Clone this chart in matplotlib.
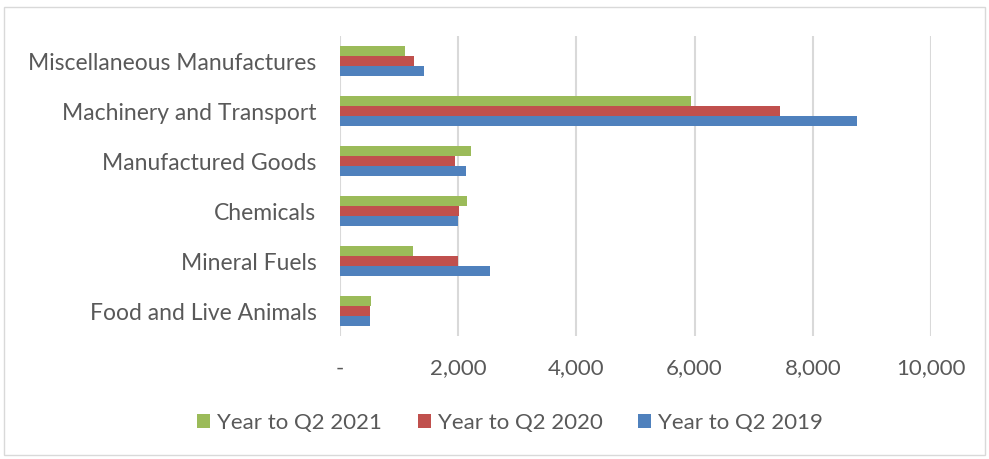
import numpy as np
import matplotlib.pyplot as plt
from matplotlib.patches import Rectangle

categories = ['Miscellaneous Manufactures', 'Machinery and Transport', 'Manufactured Goods',
              'Chemicals', 'Mineral Fuels', 'Food and Live Animals']
y2021 = [1105, 5945, 2222, 2143, 1230, 524]
y2020 = [1252, 7450, 1951, 2008, 1997, 513]
y2019 = [1416, 8753, 2137, 2002, 2538, 502]
series_names = ['Year to Q2 2021', 'Year to Q2 2020', 'Year to Q2 2019']
colors = ['#9BBB59', '#C0504D', '#4F81BD']
xticks = [0, 2000, 4000, 6000, 8000, 10000]
xticklabels = ['-', '2,000', '4,000', '6,000', '8,000', '10,000']

plt.rcParams['font.family'] = ['Lato', 'DejaVu Sans']
text_color = '#595959'
fs = 16

fig = plt.figure(figsize=(9.89, 4.59), dpi=100)
ax = fig.add_axes([340/989, 1-336/459, 591/989, 300/459])

pos = np.arange(len(categories))
h = 0.2
for i, (vals, name, c) in enumerate(zip([y2021, y2020, y2019], series_names, colors)):
    ax.barh(pos + (i - 1) * h, vals, height=h, color=c, label=name, zorder=3)

ax.set_ylim(len(categories) - 0.5, -0.5)
ax.set_yticks(pos)
ax.set_yticklabels(categories, fontsize=16.5, color=text_color)
ax.set_xlim(0, 10000)
ax.set_xticks(xticks)
ax.set_xticklabels(xticklabels, fontsize=fs, color=text_color)
ax.tick_params(length=0)
ax.tick_params(axis='y', pad=17)
ax.tick_params(axis='x', pad=16)
for s in ax.spines.values():
    s.set_visible(False)
ax.grid(axis='x', color='#D9D9D9', linewidth=1.5, zorder=0)

ax.legend(loc='center', bbox_to_anchor=(510/989, 1-423/459), bbox_transform=fig.transFigure,
          ncol=3, frameon=False, fontsize=fs, labelcolor=text_color,
          handlelength=0.6, handleheight=0.6, handletextpad=0.3, columnspacing=1.6)

fig.add_artist(Rectangle((4/989, 1-455/459), 981/989, 448/459, transform=fig.transFigure,
                         fill=False, edgecolor='#D9D9D9', linewidth=1))

fig.savefig('out.png', dpi=100)
